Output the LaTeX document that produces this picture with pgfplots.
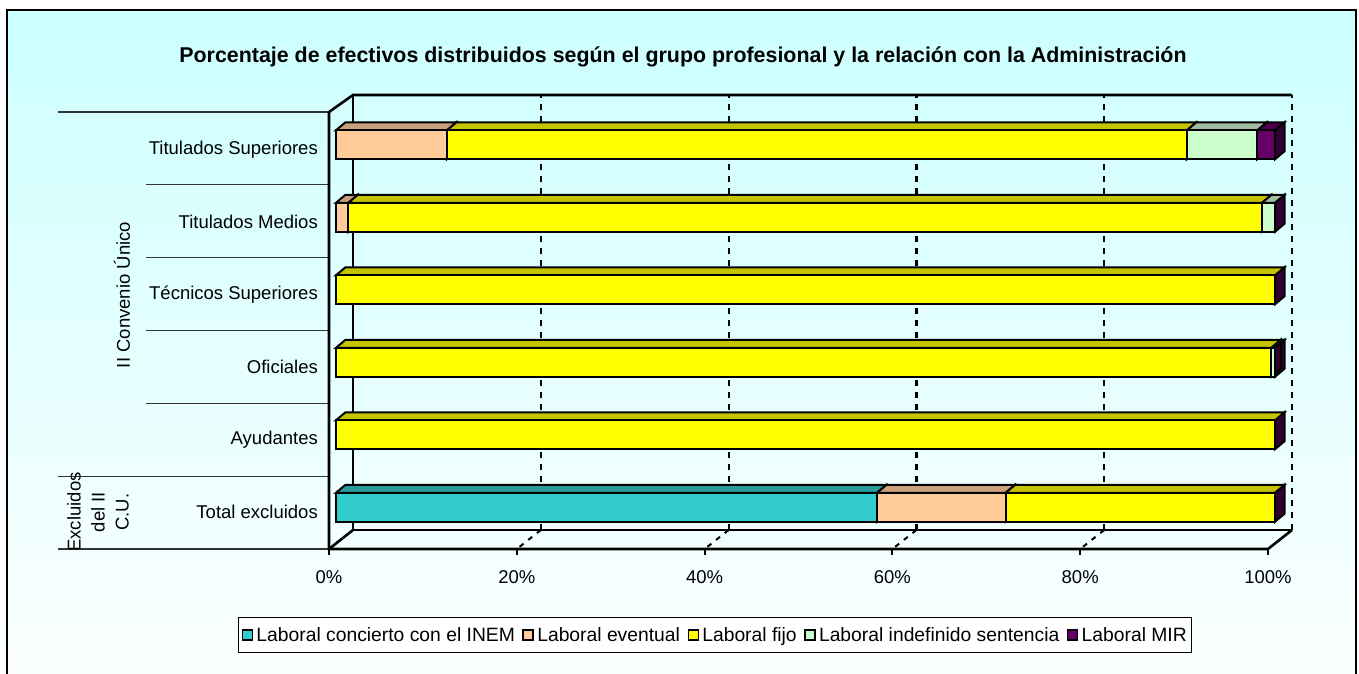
\documentclass[border=0pt]{standalone}
\usepackage{pgfplots}
\pgfplotsset{compat=1.18}
\usepackage{pgfplotstable}
\usepackage{fontspec}
\setmainfont{Liberation Sans}

\definecolor{bgcyan}{HTML}{CCFFFF}
\definecolor{cINEM}{HTML}{33CCCC}
\definecolor{tINEM}{HTML}{2B9C9C}
\definecolor{cEvent}{HTML}{FFCC99}
\definecolor{tEvent}{HTML}{C9A07A}
\definecolor{cFijo}{HTML}{FFFF00}
\definecolor{tFijo}{HTML}{C4C400}
\definecolor{cIndef}{HTML}{CCFFCC}
\definecolor{tIndef}{HTML}{A3BBA3}
\definecolor{cMIR}{HTML}{660066}
\definecolor{tMIR}{HTML}{4D004D}
\definecolor{sMIR}{HTML}{330033}

\newcommand\lbl{\fontsize{18.5}{22}\selectfont}

% y: 0 Total excluidos ... 5 Titulados Superiores
\pgfplotstableread{
y inem eventual fijo indef mir
0 57.6 13.7 28.7 0   0
1 0    0    100  0   0
2 0    0    99.6 0.4 0
3 0    0    100  0   0
4 0    1.3  97.3 1.4 0
5 0    11.8 78.8 7.5 1.9
}\datatable

\makeatletter
\newdimen\bxa \newdimen\bya \newdimen\bxb \newdimen\byb \newdimen\btmp
\def\fsx{-17pt}\def\fsy{-13.5pt}\def\ddx{9.5pt}\def\ddy{8pt}
\let\origpathrectangle\pgfpathrectangle
\def\barcorners#1#2{%
  \pgf@process{#2}\bxb=\pgf@x \byb=\pgf@y
  \pgf@process{#1}\bxa=\pgf@x \bya=\pgf@y
  \advance\bxb by\bxa \advance\byb by\bya
  \ifdim\bxa>\bxb \btmp=\bxa \bxa=\bxb \bxb=\btmp \fi
  \ifdim\bya>\byb \btmp=\bya \bya=\byb \byb=\btmp \fi
  \advance\bxa by\fsx \advance\bxb by\fsx
  \advance\bya by\fsy \advance\byb by\fsy}
\def\frontface#1#2{\barcorners{#1}{#2}%
  \pgfpathmoveto{\pgfqpoint{\bxa}{\bya}}%
  \pgfpathlineto{\pgfqpoint{\bxb}{\bya}}%
  \pgfpathlineto{\pgfqpoint{\bxb}{\byb}}%
  \pgfpathlineto{\pgfqpoint{\bxa}{\byb}}%
  \pgfpathclose}
\def\topface#1#2{\barcorners{#1}{#2}%
  \pgfpathmoveto{\pgfqpoint{\bxa}{\byb}}%
  \pgfpathlineto{\pgfqpoint{\bxb}{\byb}}%
  \advance\bxa by\ddx \advance\bxb by\ddx \advance\byb by\ddy
  \pgfpathlineto{\pgfqpoint{\bxb}{\byb}}%
  \pgfpathlineto{\pgfqpoint{\bxa}{\byb}}%
  \pgfpathclose}
\def\sideface#1#2{\barcorners{#1}{#2}%
  \pgfpathmoveto{\pgfqpoint{\bxb}{\bya}}%
  \pgfpathlineto{\pgfqpoint{\bxb}{\byb}}%
  \advance\bxb by\ddx \advance\byb by\ddy \advance\bya by\ddy
  \pgfpathlineto{\pgfqpoint{\bxb}{\byb}}%
  \pgfpathlineto{\pgfqpoint{\bxb}{\bya}}%
  \pgfpathclose}
\makeatother

\pgfplotsset{
  base/.style={at={(353pt,143pt)}, anchor=south west, scale only axis,
    width=939pt, height=435pt, xmin=0, xmax=100, ymin=-0.5, ymax=5.5,
    xbar stacked, bar width=29pt, clip=false},
  side/.style={draw=black, line width=2pt, fill=sMIR, forget plot,
    /utils/exec={\let\pgfpathrectangle\sideface}},
  top/.style={draw=black, line width=2pt, fill=#1, forget plot,
    /utils/exec={\let\pgfpathrectangle\topface}},
  front/.style={draw=black, line width=2pt, fill=#1, forget plot,
    /utils/exec={\let\pgfpathrectangle\frontface}},
  sq/.style={legend image code/.code={\let\pgfpathrectangle\origpathrectangle
    \draw[fill=#1, draw=black, line width=1.3pt] (0pt,-5pt) rectangle (10pt,5pt);}},
}

\begin{document}
\begin{tikzpicture}[x=1pt,y=1pt]
\useasboundingbox (0,0) rectangle (1359,673);
\begin{scope}
\clip (0,0) rectangle (1359,673);
\shade[top color=bgcyan, bottom color=white] (6.5,-40) rectangle (1356,662.5);
\draw[line width=2pt] (6.5,-40) rectangle (1356,662.5);
\end{scope}

% title
\node[font=\bfseries\fontsize{21.4}{25}\selectfont] at (683,616) {Porcentaje de efectivos distribuidos según el grupo profesional y la relación con la Administración};

% category separators and group labels
\begin{scope}[line width=1.3pt, draw=black!80]
\draw (58,561) -- (329,561);
\draw (146,488.2) -- (329,488.2);
\draw (146,415.3) -- (329,415.3);
\draw (146,342.5) -- (329,342.5);
\draw (146,269.7) -- (329,269.7);
\draw (58,196.8) -- (329,196.8);
\draw (58,124) -- (329,124);
\end{scope}
\node[font=\lbl, rotate=90] at (122,378) {II Convenio Único};
\node[font=\fontsize{18.5}{24}\selectfont, rotate=90, align=center] at (98,161) {Excluidos\\del II\\C.U.};

% 3D frame
\begin{scope}[line width=2.6pt]
\draw (329,561) -- (329,124) -- (1268,124) -- (1292,143);
\draw (329,561) -- (353,578) -- (1292,578);
\draw (353,578) -- (353,143) -- (1292,143);
\draw (329,124) -- (353,143);
\end{scope}
\foreach \p in {20,40,60,80}
  \draw[line width=2pt, dash pattern=on 5pt off 6pt] (353+9.39*\p,143) -- (329+9.39*\p,124);
\foreach \p in {0,20,40,60,80,100}
  \draw[line width=2pt] (329+9.39*\p,124) -- ++(0,-6);

% phase 1: grid, labels, side faces
\begin{axis}[base,
  axis line style={draw=none},
  major tick length=0pt,
  xtick={0,20,...,100},
  /pgf/number format/assume math mode=true,
  xticklabel={\pgfmathprintnumber{\tick}\%},
  xmajorgrids, grid style={black, line width=2.2pt, dash pattern=on 6pt off 6pt},
  ytick={0,...,5},
  yticklabels={Total excluidos,Ayudantes,Oficiales,Técnicos Superiores,Titulados Medios,Titulados Superiores},
  yticklabel style={inner sep=0pt, xshift=-35pt, yshift=-18pt, font=\lbl},
  xticklabel style={inner sep=0pt, xshift=-24pt, yshift=-40pt, font=\lbl},
]
\addplot[side] table[x=inem, y=y] {\datatable};
\addplot[side] table[x=eventual, y=y] {\datatable};
\addplot[side] table[x=fijo, y=y] {\datatable};
\addplot[side] table[x=indef, y=y] {\datatable};
\addplot[side] table[x=mir, y=y] {\datatable};
\end{axis}

% phase 2: top faces
\begin{axis}[base, hide axis]
\addplot[top=tINEM] table[x=inem, y=y] {\datatable};
\addplot[top=tEvent] table[x=eventual, y=y] {\datatable};
\addplot[top=tFijo] table[x=fijo, y=y] {\datatable};
\addplot[top=tIndef] table[x=indef, y=y] {\datatable};
\addplot[top=tMIR] table[x=mir, y=y] {\datatable};
\end{axis}

% phase 3: front faces and legend
\begin{axis}[base, hide axis,
  legend columns=-1,
  legend style={at={(axis description cs:0.3855,-0.2414)}, anchor=center,
    draw=black, line width=1.2pt, fill=white, font=\fontsize{19.3}{23}\selectfont,
    inner xsep=3pt, inner ysep=8pt,
    /tikz/every even column/.append style={column sep=6pt},
    /tikz/every odd column/.append style={column sep=2pt},
    nodes={inner xsep=1.5pt}},
]
\addplot[front=cINEM] table[x=inem, y=y] {\datatable};
\addplot[front=cEvent] table[x=eventual, y=y] {\datatable};
\addplot[front=cFijo] table[x=fijo, y=y] {\datatable};
\addplot[front=cIndef] table[x=indef, y=y] {\datatable};
\addplot[front=cMIR] table[x=mir, y=y] {\datatable};
\addlegendimage{sq=cINEM}\addlegendentry{Laboral concierto con el INEM}
\addlegendimage{sq=cEvent}\addlegendentry{Laboral eventual}
\addlegendimage{sq=cFijo}\addlegendentry{Laboral fijo}
\addlegendimage{sq=cIndef}\addlegendentry{Laboral indefinido sentencia}
\addlegendimage{sq=cMIR}\addlegendentry{Laboral MIR}
\end{axis}
\end{tikzpicture}
\end{document}
